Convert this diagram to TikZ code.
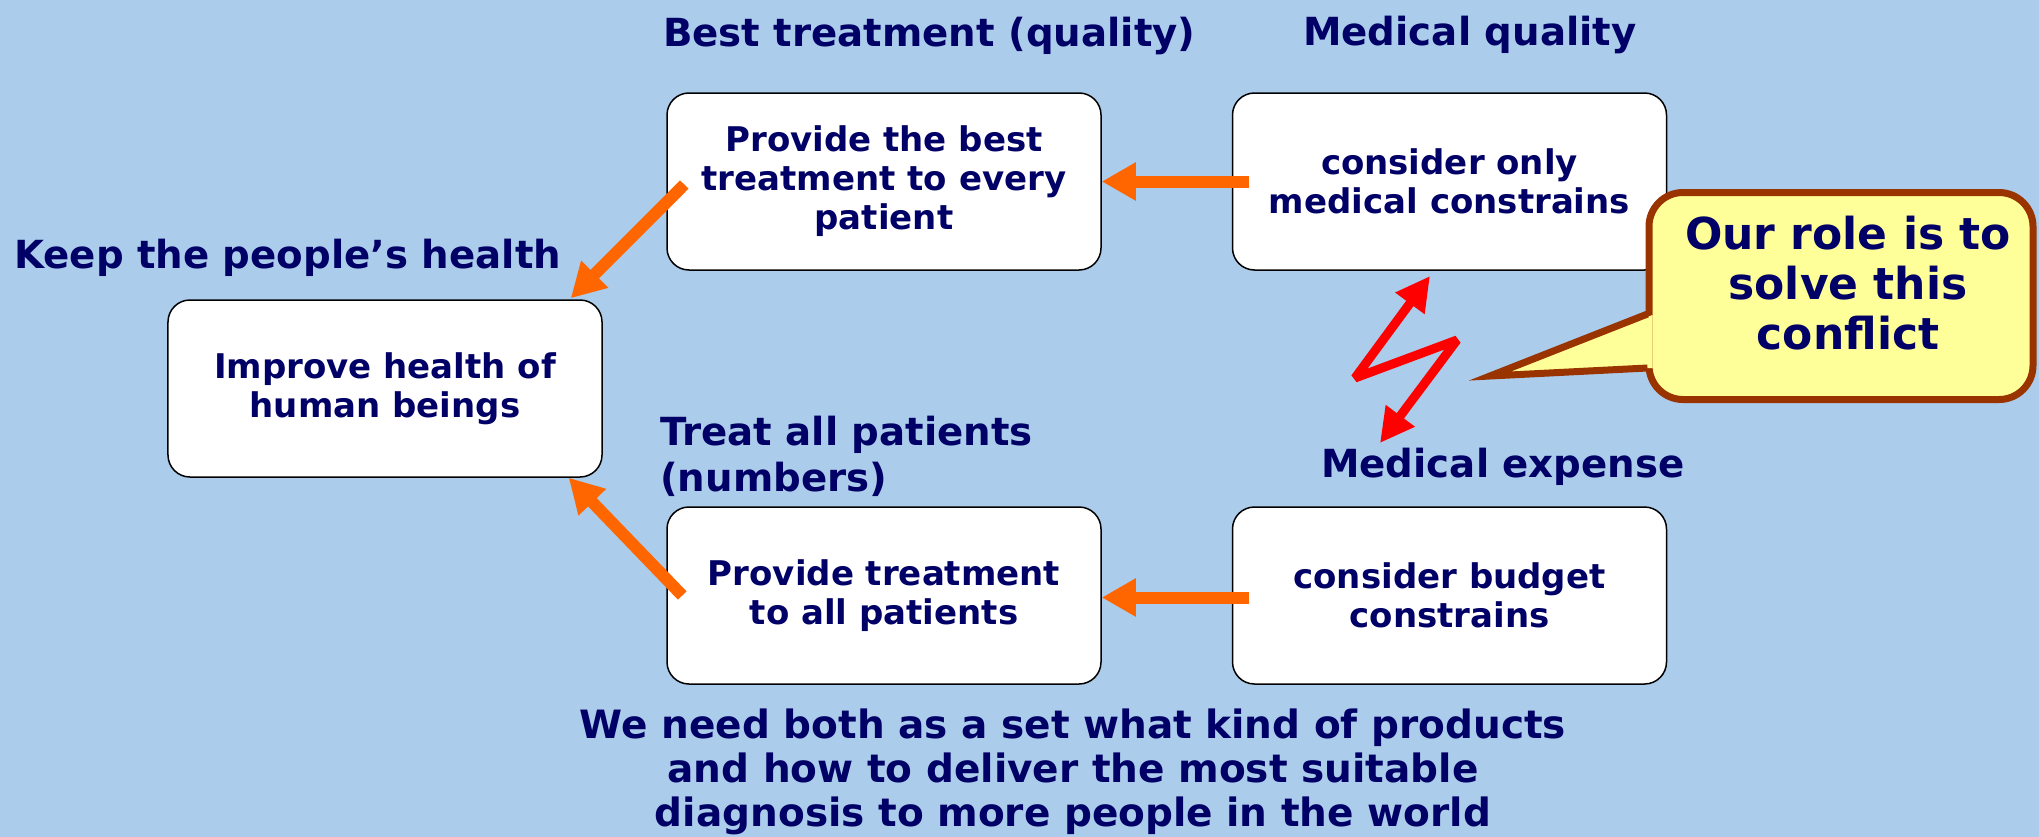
\documentclass[tikz,border=0pt]{standalone}
\usepackage{fontspec}
\setmainfont{DejaVu Sans}
\usetikzlibrary{arrows.meta,calc}
\definecolor{bgblue}{RGB}{172,204,235}
\definecolor{navy}{RGB}{0,0,102}
\definecolor{flowor}{RGB}{255,102,0}
\definecolor{callfill}{RGB}{255,255,153}
\definecolor{callborder}{RGB}{153,51,0}

\begin{document}
\begin{tikzpicture}[x=1bp,y=-1bp,
  box/.style={draw=black, line width=1.5bp, fill=white, rounded corners=22bp,
    minimum width=434bp, minimum height=177bp, inner sep=0pt, align=center,
    text=navy, font=\fontsize{34bp}{39bp}\selectfont\bfseries},
  lbl/.style={text=navy, inner sep=0pt, font=\fontsize{38.7bp}{46bp}\selectfont\bfseries},
  note/.style={text=navy, inner sep=0pt, align=center,
    font=\fontsize{39bp}{44bp}\selectfont\bfseries},
  flow/.style={draw=flowor, line width=12bp, -{Triangle[length=34bp,width=36bp]}},
  clash/.style={draw=red, line width=9bp, line join=bevel,
    {Triangle[length=34bp,width=34bp]}-{Triangle[length=34bp,width=34bp]}},
  callbox/.style={draw=callborder, fill=callfill, line width=7bp, rounded corners=34bp,
    minimum width=384bp, minimum height=207bp, inner sep=0pt},
  calltext/.style={text=navy, inner sep=0pt, align=center,
    font=\fontsize{44bp}{50bp}\selectfont\bfseries}]

% canvas
\useasboundingbox (0,0) rectangle (2039,837);
\fill[bgblue] (0,0) rectangle (2039,837);

% boxes
\node[box] (pbest)  at (884,181.5)   {Provide the best\\treatment to every\\patient};
\node[box] (medq)   at (1449.5,181.5){consider only\\medical constrains};
\node[box] (health) at (385,388.5)   {Improve health of\\human beings};
\node[box] (pall)   at (884,595.5)   {Provide treatment\\to all patients};
\node[box] (budget) at (1449.5,595.5){consider budget\\constrains};

% headings
\node[lbl, anchor=base west] (lbest) at (663,46) {Best treatment (quality)};
\node[lbl, anchor=base west] (lmedq) at (1303,45) {Medical quality};
\node[lbl, anchor=base west] (lkeep) at (14,268) {Keep the people’s health};
\node[lbl, anchor=north west, align=left] (ltreat) at (660,416) {Treat all patients\\(numbers)};
\node[lbl, anchor=base west] (lexp) at (1321,477) {Medical expense};

% orange connectors
\draw[flow] ($(medq.west)+(17,0)$) -- (pbest.east);
\draw[flow] ($(budget.west)+(17,2)$) -- ($(pall.east)+(0,2)$);
\draw[flow] ($(pbest.west)+(18,3)$) -- ($(health.north east)+(-32,-1)$);
\draw[flow] ($(pall.west)+(16,0)$) -- ($(health.south east)+(-34,0)$);

% conflict zigzag
\coordinate (zA) at (1380,443);
\coordinate (zB) at (1457,340);
\coordinate (zC) at (1355,378);
\coordinate (zD) at (1430,276);
\draw[clash] (zA) -- (zB) -- (zC) -- (zD);

% speech bubble
\node[callbox] (cb) at (1841,296) {};
\coordinate (tailtip) at (1490,376);
\fill[callfill] (tailtip) -- ($(cb.west)+(7,19)$) -- ($(cb.west)+(7,72)$) -- cycle;
\draw[callborder, line width=7bp, line join=miter]
  ($(cb.west)+(2,18)$) -- (tailtip) -- ($(cb.west)+(2,72)$);
\node[calltext] (ct) at ($(cb.center)+(7,-13)$) {Our role is to\\solve this\\conflict};

% closing remark
\node[note] (remark) at (1073,772) {We need both as a set what kind of products\\and how to deliver the most suitable\\diagnosis to more people in the world};
\end{tikzpicture}
\end{document}
